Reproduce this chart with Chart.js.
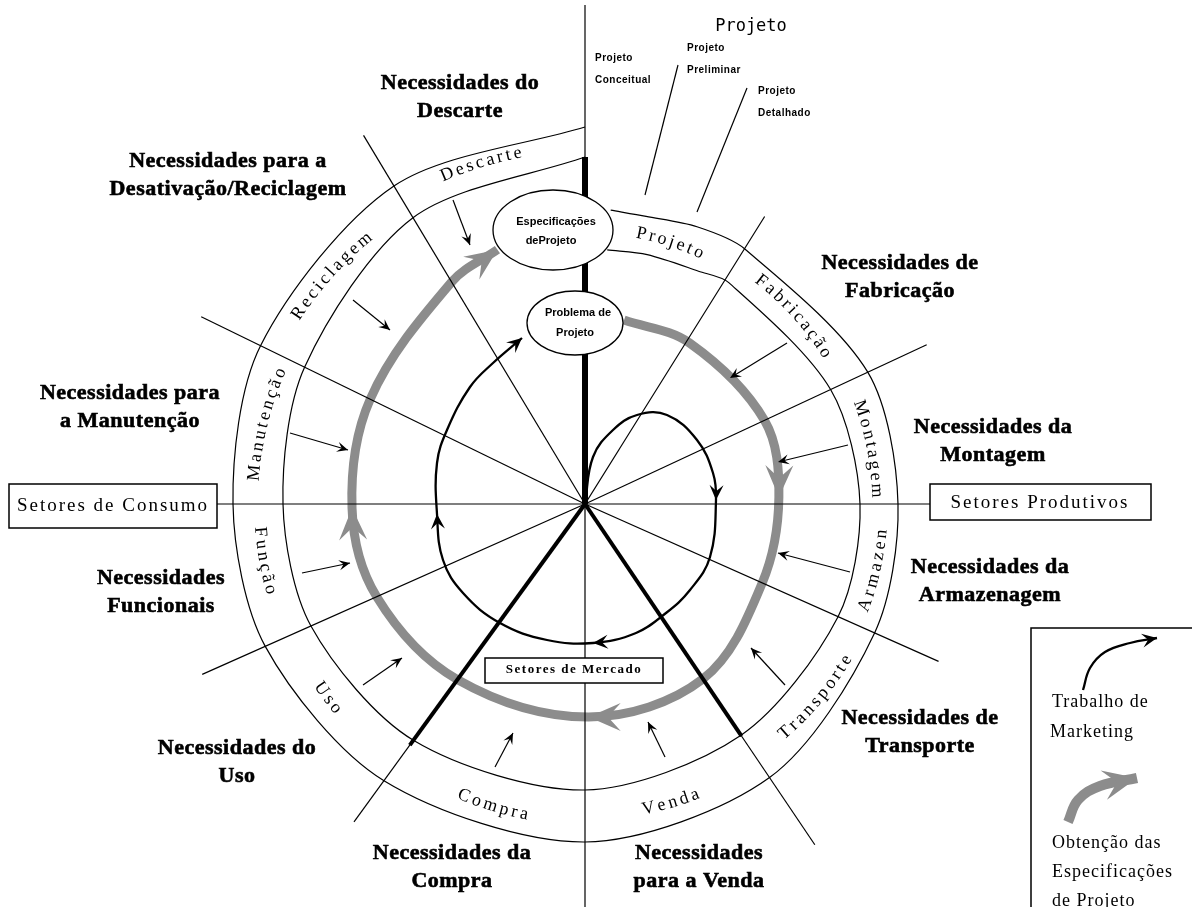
<!DOCTYPE html>
<html lang="pt">
<head>
<meta charset="UTF-8">
<title>Ciclo de Necessidades do Produto</title>
<script src="https://cdn.jsdelivr.net/npm/chart.js@4.4.0/dist/chart.umd.min.js"></script>
<style>
    html, body { margin: 0; padding: 0; background: #fff; }
    #wrap { width: 1192px; height: 907px; }
</style>
</head>
<body>
<div id="wrap"><canvas id="diagram" width="1192" height="907"></canvas></div>
<script>
// ---- data (bearing in degrees clockwise from top, radius in px from the centre) ----
const sectors = ['Projeto', 'Fabricação', 'Montagem', 'Armazen', 'Transporte', 'Venda',
                 'Compra', 'Uso', 'Função', 'Manutenção', 'Reciclagem', 'Descarte'];
const spokeAngles  = [0, 32, 65, 90, 114, 146, 180, 216, 246, 270, 296, 329];
const spokeLengths = [499, 339, 377, 345, 387, 411, 403, 393, 419, 377, 427, 430];

const thickAngles  = [0, 146, 216];
const thickLengths = [347, 280, 298];

const outerAngles = [5, 12, 22, 32, 65, 90, 114, 146, 180, 216, 246, 270, 296, 329, 360];
const outerRadii  = [295, 294, 299, 301, 312, 313, 317, 330, 338, 342, 350, 352, 361, 371, 377];
const innerAngles = [5, 14, 26, 33, 65, 90, 114, 146, 180, 216, 246, 270, 296, 329, 360];
const innerRadii  = [255, 257, 259, 264, 271, 275, 277, 279, 286, 292, 300, 302, 312, 334, 347];

// grey arrow: obtenção das especificações de projeto
const specAngles = [12, 33, 65, 88, 114, 146, 179, 216, 246, 269, 296, 329, 341];
const specRadii  = [188, 192, 198, 194, 194, 211, 213, 217, 228, 233, 239, 259, 269];
const specHeads  = [3, 6, 9, 12];

// black loop: trabalho de marketing
const mktX = [0, 8, 28, 52, 82, 112, 128, 131, 125, 105, 81, 51, 8, -38, -85, -122, -142, -148, -148, -138, -115, -92, -63];
const mktY = [0, 47, 74, 89, 89, 64, 31, 4, -53, -86, -109, -129, -139, -136, -119, -89, -56, -10, 41, 74, 117, 141, 166];
const mktHeads = [7, 12, 17, 22];

const needs = [
    ['Necessidades do', 'Descarte'],
    ['Necessidades para a', 'Desativação/Reciclagem'],
    ['Necessidades de', 'Fabricação'],
    ['Necessidades para', 'a Manutenção'],
    ['Necessidades da', 'Montagem'],
    ['Necessidades', 'Funcionais'],
    ['Necessidades da', 'Armazenagem'],
    ['Necessidades de', 'Transporte'],
    ['Necessidades do', 'Uso'],
    ['Necessidades da', 'Compra'],
    ['Necessidades', 'para a Venda']
];
// small arrows from each need towards the grey arrow
const needArrowFrom = [[-132, 304], [-232, 204], [-295, 71], [-283, -69], [-222, -181], [-90, -263],
                       [80, -253], [200, -181], [265, -68], [263, 59], [202, 161]];
const needArrowTo   = [[-115, 259], [-195, 174], [-237, 54], [-235, -59], [-183, -154], [-72, -229],
                       [63, -218], [166, -144], [193, -49], [193, 42], [145, 126]];

const projetoStages = [['Projeto', 'Conceitual'], ['Projeto', 'Preliminar'], ['Projeto', 'Detalhado']];

// legend marks
const legendMktX  = [498, 505, 520, 545, 572];
const legendMktY  = [-186, -164, -148, -139, -134];
const legendSpecX = [483, 493, 515, 552];
const legendSpecY = [-318, -296, -282, -274];

// ---- layout ----
const sectorLabelAngle  = [18, 48, 79, 103, 130, 164, 197, 233, 260, 284, 312, 343];
const sectorLabelRadius = [276, 284, 292, 298, 304, 311, 316, 322, 326, 332, 344, 357];
const sectorLabelCw     = [true, true, true, false, false, false, false, false, false, true, true, true];
const needsPos = [[-125, 421], [-357, 343], [315, 241], [-455, 111], [408, 77], [-424, -74],
                  [405, -63], [335, -214], [-348, -244], [-133, -349], [114, -349]];
const stagePos = [[10, 446], [102, 456], [173, 413]];
const stageLines = [[[93, 439], [60, 309]], [[162, 416], [112, 292]]];

const rad = d => d * Math.PI / 180;
const polar = (b, r) => ({ x: r * Math.sin(rad(b)), y: r * Math.cos(rad(b)) });
const GREY = '#8c8c8c';

const datasets = [];
function addLine(points, opts) {
    datasets.push(Object.assign({
        data: points, showLine: true, pointRadius: 0, borderColor: '#000',
        borderWidth: 1.2, tension: 0, fill: false
    }, opts || {}));
}

spokeAngles.forEach((a, i) => addLine([{ x: 0, y: 0 }, polar(a, spokeLengths[i])]));
thickAngles.forEach((a, i) => addLine([{ x: 0, y: 0 }, polar(a, thickLengths[i])], { borderWidth: i === 0 ? 6 : 4 }));
addLine(outerAngles.map((a, i) => polar(a, outerRadii[i])), { tension: 0.3 });
addLine(innerAngles.map((a, i) => polar(a, innerRadii[i])), { tension: 0.3 });
addLine(specAngles.map((a, i) => polar(a, specRadii[i])),
        { tension: 0.35, borderWidth: 9, borderColor: GREY, heads: specHeads, headSize: [32, 14], headColor: GREY });
addLine(mktX.map((x, i) => ({ x: x, y: mktY[i] })),
        { tension: 0.4, borderWidth: 2.3, heads: mktHeads, headSize: [15, 7], headColor: '#000' });
needArrowFrom.forEach((p, i) => addLine([{ x: p[0], y: p[1] }, { x: needArrowTo[i][0], y: needArrowTo[i][1] }],
        { heads: [1], headSize: [11, 5], headColor: '#000' }));
stageLines.forEach(l => addLine(l.map(p => ({ x: p[0], y: p[1] }))));
addLine(legendMktX.map((x, i) => ({ x: x, y: legendMktY[i] })),
        { tension: 0.4, borderWidth: 2.3, heads: [legendMktX.length - 1], headSize: [15, 7], headColor: '#000' });
addLine(legendSpecX.map((x, i) => ({ x: x, y: legendSpecY[i] })),
        { tension: 0.4, borderWidth: 10, borderColor: GREY, heads: [legendSpecX.length - 1], headSize: [34, 15], headColor: GREY });

function drawHead(ctx, x, y, ang, len, half, color) {
    ctx.save();
    ctx.translate(x, y);
    ctx.rotate(ang);
    ctx.beginPath();
    ctx.moveTo(0, 0);
    ctx.lineTo(-len, -half);
    ctx.lineTo(-len * 0.6, 0);
    ctx.lineTo(-len, half);
    ctx.closePath();
    ctx.fillStyle = color;
    ctx.fill();
    ctx.restore();
}

function arcText(ctx, text, cx, cy, bearing, r, cw, spacing) {
    const chars = [...text];
    const widths = chars.map(c => ctx.measureText(c).width);
    const total = widths.reduce((s, w) => s + w, 0) + spacing * (chars.length - 1);
    const dir = cw ? 1 : -1;
    let a = rad(bearing) - dir * (total / 2) / r;
    chars.forEach((c, i) => {
        const ac = a + dir * (widths[i] / 2) / r;
        ctx.save();
        ctx.translate(cx + r * Math.sin(ac), cy - r * Math.cos(ac));
        ctx.rotate(cw ? ac : ac - Math.PI);
        ctx.fillText(c, 0, 0);
        ctx.restore();
        a += dir * (widths[i] + spacing) / r;
    });
}

const diagramPlugin = {
    id: 'diagram',
    beforeDraw(chart) {
        const ctx = chart.ctx;
        ctx.save();
        ctx.fillStyle = '#fff';
        ctx.fillRect(0, 0, chart.width, chart.height);
        ctx.restore();
    },
    afterDatasetsDraw(chart) {
        const ctx = chart.ctx;
        const sx = chart.scales.x, sy = chart.scales.y;
        const px = v => sx.getPixelForValue(v);
        const py = v => sy.getPixelForValue(v);
        const unit = px(1) - px(0);

        // arrow heads
        chart.data.datasets.forEach((ds, di) => {
            if (!ds.heads) return;
            const pts = chart.getDatasetMeta(di).data;
            ds.heads.forEach(k => {
                const p = pts[k];
                let bx = p.cp1x, by = p.cp1y;
                if (bx === undefined || (Math.abs(bx - p.x) < 0.5 && Math.abs(by - p.y) < 0.5)) {
                    bx = pts[k - 1].x; by = pts[k - 1].y;
                }
                drawHead(ctx, p.x, p.y, Math.atan2(p.y - by, p.x - bx), ds.headSize[0], ds.headSize[1], ds.headColor);
            });
        });

        ctx.save();
        ctx.strokeStyle = '#000';
        ctx.fillStyle = '#000';
        ctx.textAlign = 'center';
        ctx.textBaseline = 'middle';

        // ellipses
        function ellipse(cx, cy, rx, ry, lines) {
            ctx.beginPath();
            ctx.ellipse(px(cx), py(cy), rx * unit, ry * unit, 0, 0, Math.PI * 2);
            ctx.fillStyle = '#fff';
            ctx.fill();
            ctx.lineWidth = 1.3;
            ctx.stroke();
            ctx.fillStyle = '#000';
            ctx.font = 'bold 11px "Liberation Sans"';
            ctx.letterSpacing = '0px';
            lines.forEach(l => ctx.fillText(l[0], px(l[1]), py(l[2])));
        }
        ellipse(-32, 274, 60, 40, [['Especificações', -29, 282], ['deProjeto', -34, 263]]);
        ellipse(-10, 181, 48, 32, [['Problema de', -7, 191], ['Projeto', -10, 171]]);

        // boxes
        function box(x0, y0, x1, y1, lw, filled) {
            if (filled) {
                ctx.fillStyle = '#fff';
                ctx.fillRect(px(x0), py(y0), px(x1) - px(x0), py(y1) - py(y0));
            }
            ctx.lineWidth = lw;
            ctx.strokeRect(px(x0), py(y0), px(x1) - px(x0), py(y1) - py(y0));
            ctx.fillStyle = '#000';
        }
        box(-576, 20, -368, -24, 1.5, true);
        box(345, 20, 566, -16, 1.5, true);
        box(-100, -154, 78, -179, 1.5, true);
        box(446, -124, 640, -420, 1.5, false);

        ctx.font = '19px "Liberation Serif"';
        ctx.letterSpacing = '2px';
        ctx.fillText('Setores de Consumo', px(-472), py(-2));
        ctx.fillText('Setores Produtivos', px(455), py(1));
        ctx.font = 'bold 13px "Liberation Serif"';
        ctx.letterSpacing = '1.5px';
        ctx.fillText('Setores de Mercado', px(-11), py(-166));

        // sector names along the rings
        ctx.font = '18px "Liberation Serif"';
        ctx.letterSpacing = '0px';
        sectors.forEach((s, i) => arcText(ctx, s, px(0), py(0), sectorLabelAngle[i],
                                          sectorLabelRadius[i] * unit, sectorLabelCw[i], 3));

        // needs
        ctx.font = 'bold 22px "Liberation Serif"';
        ctx.letterSpacing = '0.5px';
        ctx.lineWidth = 0.6;
        needs.forEach((n, i) => {
            [0, 1].forEach(j => {
                const x = px(needsPos[i][0]), y = py(needsPos[i][1] - 28 * j);
                ctx.fillText(n[j], x, y);
                ctx.strokeText(n[j], x, y);
            });
        });

        // projeto stages
        ctx.font = '17px "DejaVu Sans Mono"';
        ctx.letterSpacing = '0px';
        ctx.fillText('Projeto', px(166), py(477));
        ctx.textAlign = 'left';
        ctx.font = 'bold 10px "Liberation Sans"';
        ctx.letterSpacing = '0.5px';
        projetoStages.forEach((s, i) => {
            ctx.fillText(s[0], px(stagePos[i][0]), py(stagePos[i][1]));
            ctx.fillText(s[1], px(stagePos[i][0]), py(stagePos[i][1] - 22));
        });

        // legend text
        ctx.font = '18px "Liberation Serif"';
        ctx.letterSpacing = '1px';
        ctx.fillText('Trabalho de', px(467), py(-198));
        ctx.fillText('Marketing', px(465), py(-228));
        ctx.fillText('Obtenção das', px(467), py(-339));
        ctx.fillText('Especificações', px(467), py(-368));
        ctx.fillText('de Projeto', px(467), py(-397));
        ctx.restore();
    }
};

new Chart(document.getElementById('diagram'), {
    type: 'scatter',
    data: { datasets: datasets },
    options: {
        responsive: false,
        animation: false,
        devicePixelRatio: 1,
        events: [],
        layout: { padding: 0 },
        plugins: { legend: { display: false }, tooltip: { enabled: false } },
        scales: {
            x: { type: 'linear', min: -585, max: 607, display: false },
            y: { type: 'linear', min: -403, max: 504, display: false }
        }
    },
    plugins: [diagramPlugin]
});
</script>
</body>
</html>
